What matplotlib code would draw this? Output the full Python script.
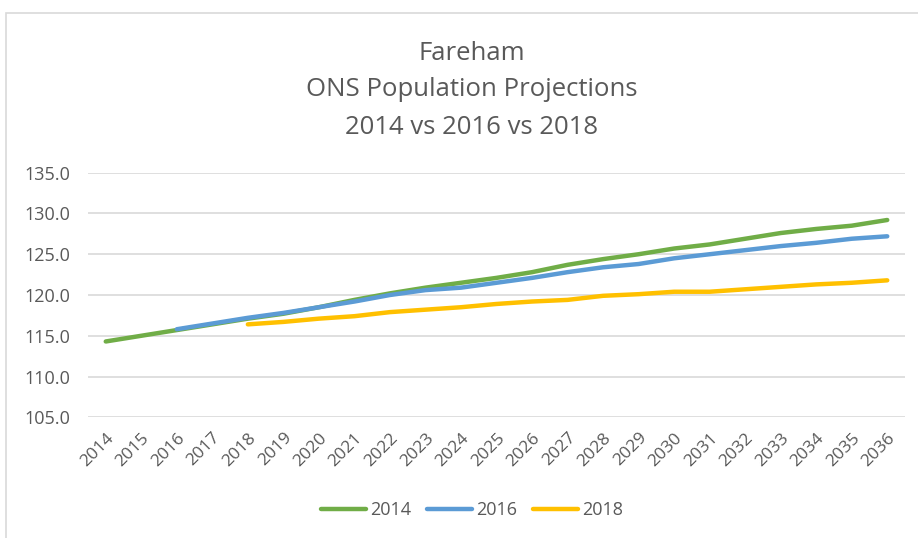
import matplotlib
matplotlib.use("Agg")
import matplotlib.pyplot as plt
from matplotlib.patches import Rectangle
import numpy as np

years = list(range(2014, 2037))
proj_2014 = [114.3, 115.0, 115.7, 116.4, 117.1, 117.7, 118.5, 119.4, 120.2, 120.9,
             121.5, 122.1, 122.8, 123.7, 124.4, 125.0, 125.7, 126.2, 126.9, 127.6,
             128.1, 128.5, 129.2]
proj_2016 = [None, None, 115.8, 116.5, 117.2, 117.8, 118.5, 119.2, 120.0, 120.6,
             120.9, 121.5, 122.1, 122.8, 123.4, 123.8, 124.5, 125.0, 125.5, 126.0,
             126.4, 126.9, 127.2]
proj_2018 = [None, None, None, None, 116.4, 116.7, 117.1, 117.4, 117.9, 118.2,
             118.5, 118.9, 119.2, 119.4, 119.9, 120.1, 120.4, 120.4, 120.7, 121.0,
             121.3, 121.5, 121.8]
series = [("2014", proj_2014, "#70AD47"),
          ("2016", proj_2016, "#5B9BD5"),
          ("2018", proj_2018, "#FFC000")]
title_lines = ["Fareham", "ONS Population Projections", "2014 vs 2016 vs 2018"]

FONT = "Open Sans"
TXT = "#595959"

fig = plt.figure(figsize=(9.18, 5.38), dpi=100)
# chart area border (Excel style)
fig.patches.append(Rectangle((6 / 918, -0.05), 1.0, 1 - 13 / 538 + 0.05,
                             transform=fig.transFigure, fill=False,
                             edgecolor="#d9d9d9", linewidth=1.2))

ax = fig.add_axes([88 / 918, 1 - 417.3 / 538, (905 - 88) / 918, (417.3 - 172.7) / 538])
x = np.arange(len(years))
for name, vals, col in series:
    y = np.array([np.nan if v is None else v for v in vals], dtype=float)
    ax.plot(x, y, color=col, linewidth=3.2, solid_capstyle="round", label=name)

ax.set_xlim(-0.5, len(years) - 0.5)
ax.set_ylim(105, 135)
ax.set_yticks(np.arange(105, 136, 5))
ax.set_yticklabels([f"{v:.1f}" for v in np.arange(105, 136, 5)],
                   fontsize=13, color=TXT, family=FONT)
ax.set_xticks(x)
ax.set_xticklabels([str(yr) for yr in years], rotation=45, ha="right",
                   rotation_mode="anchor", fontsize=12.5, color=TXT, family=FONT)
ax.tick_params(axis="both", length=0)
ax.tick_params(axis="x", pad=9)
ax.tick_params(axis="y", pad=13)
ax.grid(axis="y", color="#d9d9d9", linewidth=1.2)
ax.set_axisbelow(True)
for s in ax.spines.values():
    s.set_visible(False)

for i, line in enumerate(title_lines):
    fig.text(472 / 918, 1 - (53 + 37 * i) / 538, line, ha="center", va="center",
             fontsize=18.5, color=TXT, family=FONT)

leg = fig.legend(loc="center", bbox_to_anchor=(472 / 918, 1 - 510 / 538), ncol=3,
                 frameon=False, prop={"family": FONT, "size": 13},
                 handlelength=2.5, handletextpad=0.2, columnspacing=0.9)
for t in leg.get_texts():
    t.set_color(TXT)

fig.savefig("out.png", dpi=100)
